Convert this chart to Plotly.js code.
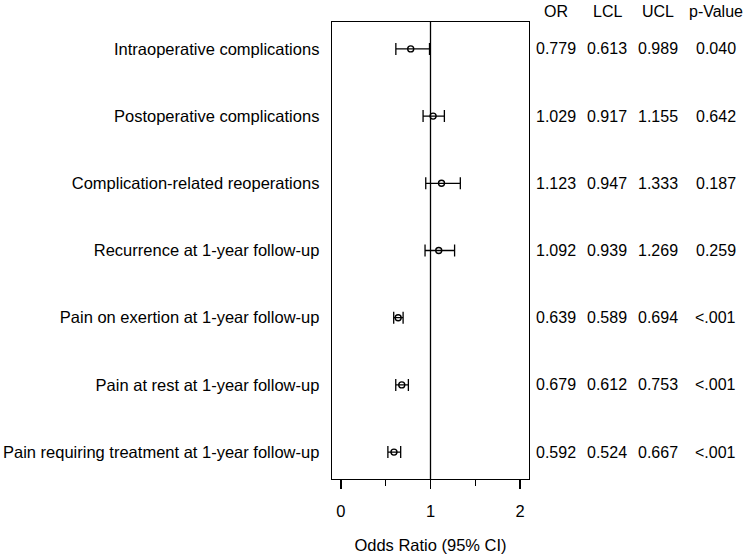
<!DOCTYPE html>
<html>
<head>
<meta charset="utf-8">
<script src="https://cdn.plot.ly/plotly-3.0.1.min.js"></script>
<style>html,body{margin:0;padding:0;background:#fff;}#chart{width:749px;height:554px;}</style>
</head>
<body>
<div id="chart"></div>
<script>
// Data
const outcomes = [
  "Intraoperative complications",
  "Postoperative complications",
  "Complication-related reoperations",
  "Recurrence at 1-year follow-up",
  "Pain on exertion at 1-year follow-up",
  "Pain at rest at 1-year follow-up",
  "Pain requiring treatment at 1-year follow-up"
];
const oddsRatio = [0.779, 1.029, 1.123, 1.092, 0.639, 0.679, 0.592];
const lowerCL   = [0.613, 0.917, 0.947, 0.939, 0.589, 0.612, 0.524];
const upperCL   = [0.989, 1.155, 1.333, 1.269, 0.694, 0.753, 0.667];
const pValues   = ["0.040", "0.642", "0.187", "0.259", "<.001", "<.001", "<.001"];
const columnHeaders = ["OR", "LCL", "UCL", "p-Value"];
const xTicks = [0, 1, 2];
const nullValue = 1;

const FONT = "Liberation Sans, Arial, Helvetica, sans-serif";
const LABEL_SIZE = 16.5;
const TABLE_SIZE = 16;

const trace = {
  type: "scatter",
  mode: "markers",
  x: oddsRatio,
  y: outcomes,
  marker: { symbol: "circle-open", size: 6, color: "#000", line: { color: "#000", width: 1.4 } },
  error_x: {
    type: "data",
    symmetric: false,
    array: upperCL.map((u, i) => u - oddsRatio[i]),
    arrayminus: lowerCL.map((l, i) => oddsRatio[i] - l),
    color: "#000",
    thickness: 1.3,
    width: 6
  },
  hoverinfo: "skip",
  showlegend: false
};

// Table columns at the right of the plot (paper x positions)
const colX = [1.137, 1.396, 1.655, 1.949];
const tableCols = [
  oddsRatio.map(v => v.toFixed(3)),
  lowerCL.map(v => v.toFixed(3)),
  upperCL.map(v => v.toFixed(3)),
  pValues
];
const annotations = [];
columnHeaders.forEach((h, c) => {
  annotations.push({
    text: h, xref: "paper", yref: "paper", x: colX[c], y: 1.022,
    xanchor: "center", yanchor: "middle", showarrow: false,
    font: { family: FONT, size: TABLE_SIZE, color: "#000" }
  });
});
tableCols.forEach((col, c) => {
  col.forEach((txt, r) => {
    annotations.push({
      text: txt, xref: "paper", yref: "y", x: colX[c], y: outcomes[r],
      xanchor: "center", yanchor: "middle", showarrow: false,
      font: { family: FONT, size: TABLE_SIZE, color: "#000" }
    });
  });
});

const layout = {
  width: 749,
  height: 554,
  margin: { l: 332, r: 220, t: 22, b: 75, pad: 0 },
  paper_bgcolor: "#fff",
  plot_bgcolor: "#fff",
  font: { family: FONT, size: LABEL_SIZE, color: "#000" },
  xaxis: {
    range: [-0.1, 2.1],
    tickvals: xTicks,
    ticktext: xTicks.map(String),
    ticks: "outside",
    ticklen: 9,
    tickwidth: 1.3,
    tickcolor: "#000",
    ticklabelstandoff: 8,
    minor: { dtick: 0.5, tick0: 0, ticks: "outside", ticklen: 6, tickwidth: 1.3, tickcolor: "#000", showgrid: false },
    showgrid: false,
    zeroline: false,
    showline: true,
    mirror: true,
    linecolor: "#000",
    linewidth: 1.3,
    tickfont: { family: FONT, size: LABEL_SIZE, color: "#000" },
    title: { text: "Odds Ratio (95% CI)", font: { family: FONT, size: LABEL_SIZE, color: "#000" }, standoff: 20 },
    fixedrange: true
  },
  yaxis: {
    type: "category",
    categoryorder: "array",
    categoryarray: outcomes,
    range: [6.4, -0.4],
    ticks: "",
    ticklabelstandoff: 8,
    showgrid: false,
    zeroline: false,
    showline: true,
    mirror: true,
    linecolor: "#000",
    linewidth: 1.3,
    tickfont: { family: FONT, size: LABEL_SIZE, color: "#000" },
    fixedrange: true
  },
  shapes: [{
    type: "line", xref: "x", yref: "paper",
    x0: nullValue, x1: nullValue, y0: 0, y1: 1,
    line: { color: "#000", width: 1.3 }
  }],
  annotations: annotations
};

Plotly.newPlot("chart", [trace], layout, { displayModeBar: false, staticPlot: true });
</script>
</body>
</html>
